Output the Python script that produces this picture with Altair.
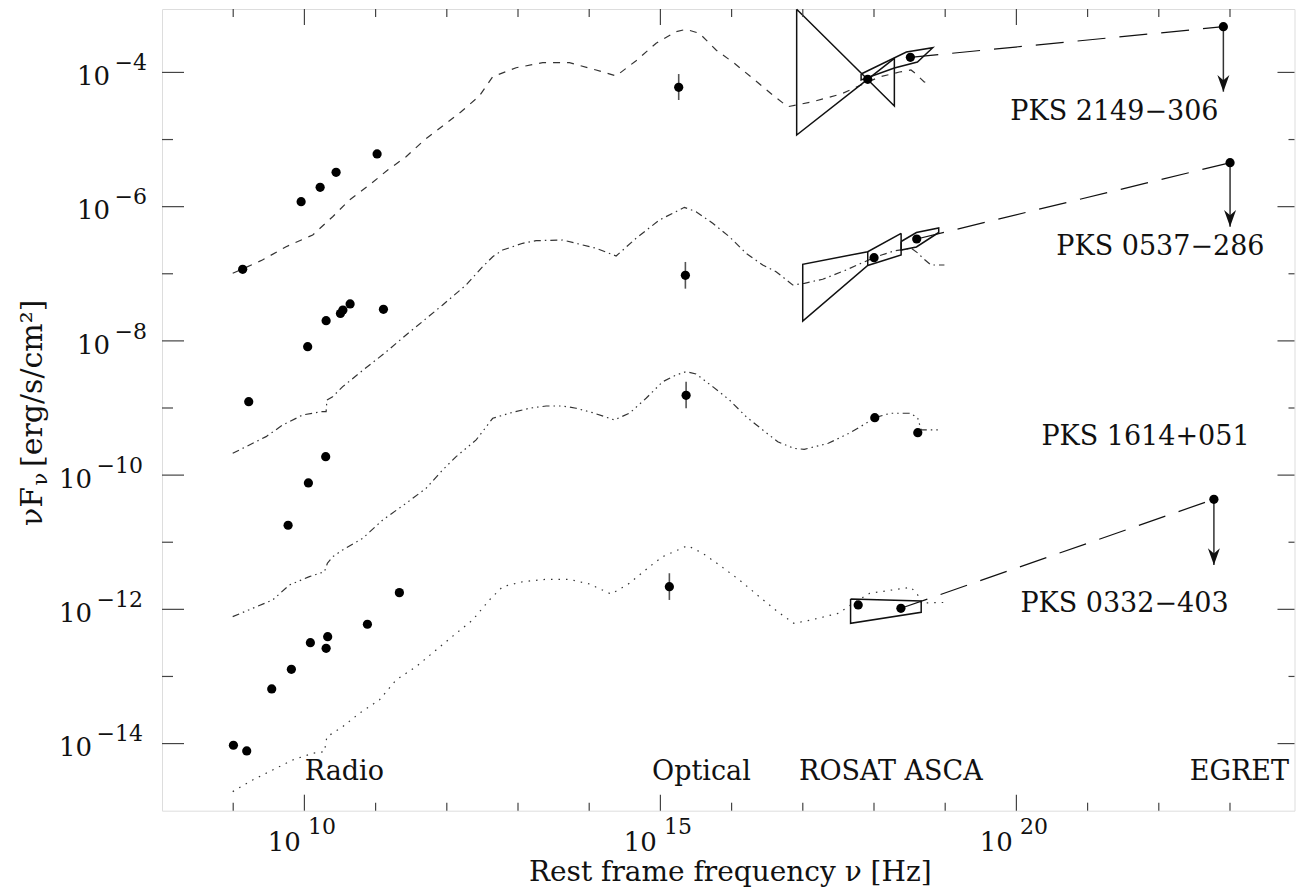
import altair as alt
import pandas as pd

# ------------------------------------------------------------------
# Values (log10 of frequency [Hz] and of nuF_nu)
# ------------------------------------------------------------------
SOURCE_LABELS = ["PKS 2149−306", "PKS 0537−286", "PKS 1614+051", "PKS 0332−403"]
SOURCE_LABEL_LOGNU = [21.377, 22.023, 21.813, 21.518]
SOURCE_LABEL_LOGF = [-4.709, -6.720, -9.551, -12.039]

BAND_LABELS = ["Radio", "Optical", "ROSAT ASCA", "EGRET"]
BAND_LABEL_LOGNU = [10.562, 15.576, 18.237, 23.132]
BAND_LABEL_LOGF = [-14.542, -14.542, -14.542, -14.542]

# radio photometry
RADIO_LOGNU = [9.133, 9.954, 10.221, 10.445, 11.021,
               9.218, 10.046, 10.305, 10.506, 10.541, 10.642, 11.110,
               9.771, 10.056, 10.299,
               9.003, 9.190, 9.541, 9.817, 10.084, 10.327, 10.305, 10.885, 11.334]
RADIO_LOGF = [-6.933, -5.926, -5.712, -5.488, -5.215,
              -8.906, -8.086, -7.699, -7.592, -7.540, -7.450, -7.529,
              -10.747, -10.117, -9.725,
              -14.025, -14.110, -13.186, -12.893, -12.497, -12.407, -12.580, -12.222, -11.751]

# optical points with error bars
OPT_LOGNU = [15.257, 15.351, 15.361, 15.126]
OPT_LOGF = [-4.222, -7.023, -8.811, -11.662]
OPT_LO = [-4.411, -7.222, -9.004, -11.860]
OPT_HI = [-4.024, -6.824, -8.608, -11.462]

# X-ray points (ROSAT, ASCA)
XR_LOGNU = [17.912, 18.511, 18.001, 18.600, 18.011, 18.615, 17.778, 18.378]
XR_LOGF = [-4.103, -3.775, -6.760, -6.482, -9.144, -9.368, -11.935, -11.984]

# EGRET upper limits (dot and arrow tip)
EG_LOGNU = [22.907, 23.001, 22.774]
EG_LOGF = [-3.319, -5.345, -10.360]
EG_TIP = [-4.287, -6.299, -11.339]

# long-dashed links from the hard X-ray point to EGRET
LINK_LOGNU1 = [18.511, 18.600, 18.378]
LINK_LOGF1 = [-3.775, -6.482, -11.984]

# model SEDs
M1_LOGNU = [8.993, 9.410, 9.743, 10.117, 10.397, 10.632, 10.913, 11.170, 11.428, 11.685,
            11.942, 12.201, 12.458, 12.645, 12.973, 13.347, 13.722, 14.097, 14.378, 14.659,
            14.940, 15.221, 15.361, 15.548, 15.782, 16.039, 16.296, 16.577, 16.788, 17.139,
            17.538, 17.819, 18.076, 18.357, 18.519, 18.579, 18.705, 18.818]
M1_LOGF = [-6.993, -6.795, -6.597, -6.422, -6.150, -5.901, -5.677, -5.454, -5.256, -5.007,
           -4.798, -4.585, -4.351, -4.064, -3.930, -3.855, -3.855, -3.964, -4.053, -3.825,
           -3.566, -3.393, -3.358, -3.417, -3.666, -3.864, -4.088, -4.336, -4.511, -4.436,
           -4.322, -4.187, -4.068, -3.994, -3.964, -4.013, -4.143, -4.153]

M2_LOGNU = [8.993, 9.462, 9.695, 9.976, 10.235, 10.305, 10.316, 10.397, 10.538, 10.796,
            11.124, 11.428, 11.685, 11.942, 12.271, 12.504, 12.645, 12.785, 13.066, 13.254,
            13.628, 13.909, 14.097, 14.378, 14.659, 14.986, 15.173, 15.337, 15.501, 15.735,
            15.969, 16.204, 16.437, 16.625, 16.858, 17.022, 17.279, 17.608, 17.819, 18.029,
            18.286, 18.525, 18.614, 18.684, 18.802, 18.989]
M2_LOGF = [-9.675, -9.427, -9.253, -9.104, -9.055, -9.055, -8.880, -8.831, -8.682, -8.459,
           -8.185, -7.912, -7.689, -7.465, -7.167, -6.894, -6.746, -6.646, -6.546, -6.507,
           -6.497, -6.571, -6.620, -6.735, -6.471, -6.199, -6.099, -6.010, -6.075, -6.248,
           -6.448, -6.695, -6.869, -6.969, -7.167, -7.142, -7.082, -6.944, -6.844, -6.747,
           -6.658, -6.620, -6.690, -6.765, -6.869, -6.869]

M3_LOGNU = [8.993, 9.274, 9.555, 9.789, 10.070, 10.281, 10.323, 10.397, 10.538, 10.819,
            11.100, 11.428, 11.709, 11.942, 12.131, 12.412, 12.645, 12.879, 13.160, 13.395,
            13.628, 13.816, 14.049, 14.354, 14.565, 14.799, 15.032, 15.221, 15.361, 15.501,
            15.735, 15.969, 16.204, 16.437, 16.648, 16.874, 17.020, 17.358, 17.648, 17.889,
            18.011, 18.229, 18.517, 18.615, 18.663, 18.904]
M3_LOGF = [-12.109, -11.984, -11.860, -11.637, -11.513, -11.439, -11.313, -11.215, -11.115, -10.941,
           -10.668, -10.420, -10.196, -9.923, -9.725, -9.476, -9.153, -9.078, -9.004, -8.970,
           -8.970, -9.004, -9.070, -9.178, -9.078, -8.855, -8.608, -8.508, -8.459, -8.493,
           -8.682, -8.880, -9.129, -9.327, -9.503, -9.601, -9.616, -9.526, -9.377, -9.228,
           -9.144, -9.078, -9.078, -9.153, -9.327, -9.327]

M4_LOGNU = [8.993, 9.274, 9.555, 9.836, 10.117, 10.281, 10.316, 10.397, 10.538, 10.772,
            11.053, 11.288, 11.569, 11.850, 12.131, 12.364, 12.598, 12.785, 13.066, 13.395,
            13.722, 14.003, 14.308, 14.565, 14.846, 15.032, 15.383, 15.594, 15.829, 16.110,
            16.390, 16.648, 16.874, 17.117, 17.503, 17.671, 17.938, 18.421, 18.518, 18.615,
            18.663, 19.001]
M4_LOGF = [-14.716, -14.542, -14.393, -14.244, -14.144, -14.121, -13.897, -13.846, -13.748, -13.549,
           -13.350, -13.052, -12.854, -12.605, -12.357, -12.158, -11.860, -11.662, -11.588, -11.552,
           -11.552, -11.623, -11.772, -11.612, -11.365, -11.215, -11.051, -11.165, -11.340, -11.563,
           -11.812, -12.036, -12.208, -12.158, -12.058, -11.935, -11.761, -11.686, -11.671, -11.786,
           -11.906, -11.897]

# X-ray spectral "bow-tie" outlines
SHAPE_ID = (["s1_rosat"] * 5 + ["s1_asca"] * 7 + ["s2_rosat"] * 7 + ["s2_box"] * 2
            + ["s2_asca"] * 7 + ["s4_xray"] * 5)
SHAPE_LOGNU = [16.914, 18.286, 18.286, 16.914, 16.914,
               17.819, 18.455, 18.825, 18.610, 18.286, 17.819, 17.819,
               18.381, 17.912, 16.999, 16.999, 17.912, 18.381, 18.381,
               17.912, 17.912,
               18.381, 18.596, 18.909, 18.909, 18.596, 18.381, 18.381,
               17.671, 17.671, 18.663, 18.663, 17.671]
SHAPE_LOGF = [-3.060, -4.500, -3.790, -4.932, -3.060,
              -4.024, -3.696, -3.632, -3.845, -3.934, -4.113, -4.024,
              -6.397, -6.671, -6.859, -7.704, -6.877, -6.720, -6.397,
              -6.671, -6.877,
              -6.519, -6.385, -6.318, -6.385, -6.601, -6.646, -6.519,
              -11.845, -12.208, -12.044, -11.875, -11.845]

# axis decorations
X_MAJOR = [10, 15, 20]
X_MINOR = [9, 11, 12, 13, 14, 16, 17, 18, 19, 21, 22, 23]
Y_MAJOR = [-14, -12, -10, -8, -6, -4]
Y_MINOR = [-13, -11, -9, -7, -5]
X_LABEL_EXP = ["10", "15", "20"]
Y_LABEL_EXP = ["−14", "−12", "−10", "−8", "−6", "−4"]

# ------------------------------------------------------------------
W, H = 1132.5, 801.7
X_DOMAIN = [1e8, 10 ** (8 + W / 71.2)]
Y_DOMAIN = [1e-15, 10 ** -3.055]
FONT = "DejaVu Serif"
INK = "#111"


def lin(v):
    return [10.0 ** a for a in v]


XS = alt.Scale(type="log", domain=X_DOMAIN, nice=False, zero=False)
YS = alt.Scale(type="log", domain=Y_DOMAIN, nice=False, zero=False)


def X(f="nu"):
    return alt.X(f"{f}:Q", scale=XS, axis=None)


def Y(f="f"):
    return alt.Y(f"{f}:Q", scale=YS, axis=None)


layers = []

# model curves
for lx, ly, dash in [(M1_LOGNU, M1_LOGF, [7, 7]),
                     (M2_LOGNU, M2_LOGF, [7, 4, 1.5, 4]),
                     (M3_LOGNU, M3_LOGF, [7, 4, 1.5, 4, 1.5, 4, 1.5, 4]),
                     (M4_LOGNU, M4_LOGF, [1.5, 6])]:
    d = pd.DataFrame({"nu": lin(lx), "f": lin(ly), "i": list(range(len(lx)))})
    layers.append(alt.Chart(d).mark_line(color="#333", strokeWidth=1.2, strokeDash=dash)
                  .encode(x=X(), y=Y(), order="i:Q"))

# bow-ties
shp = pd.DataFrame({"id": SHAPE_ID, "nu": lin(SHAPE_LOGNU), "f": lin(SHAPE_LOGF),
                    "i": list(range(len(SHAPE_ID)))})
layers.append(alt.Chart(shp).mark_line(color=INK, strokeWidth=1.5)
              .encode(x=X(), y=Y(), detail="id:N", order="i:Q"))

# long-dashed links
lk = pd.DataFrame({"nu": lin(LINK_LOGNU1), "f": lin(LINK_LOGF1),
                   "nu2": lin(EG_LOGNU), "f2": lin(EG_LOGF)})
layers.append(alt.Chart(lk).mark_rule(color=INK, strokeWidth=1.2, strokeDash=[28, 14])
              .encode(x=X(), y=Y(), x2="nu2:Q", y2="f2:Q"))

# EGRET arrows
eg = pd.DataFrame({"nu": lin(EG_LOGNU), "f": lin(EG_LOGF), "tip": lin(EG_TIP)})
layers.append(alt.Chart(eg).mark_rule(color="#333", strokeWidth=1.5)
              .encode(x=X(), y=Y(), y2="tip:Q"))
layers.append(alt.Chart(eg).mark_point(shape="M0,0L-1,-2.8L0,-1.9L1,-2.8Z", size=144,
                                       filled=True, color=INK, opacity=1)
              .encode(x=X(), y=Y("tip")))

# optical error bars
ob = pd.DataFrame({"nu": lin(OPT_LOGNU), "lo": lin(OPT_LO), "hi": lin(OPT_HI)})
layers.append(alt.Chart(ob).mark_rule(color="#555", strokeWidth=1.6)
              .encode(x=X(), y=Y("lo"), y2="hi:Q"))

# all points
pts = pd.DataFrame({"nu": lin(RADIO_LOGNU + OPT_LOGNU + XR_LOGNU + EG_LOGNU),
                    "f": lin(RADIO_LOGF + OPT_LOGF + XR_LOGF + EG_LOGF)})
layers.append(alt.Chart(pts).mark_circle(size=85, color="#000", opacity=1)
              .encode(x=X(), y=Y()))

# ticks
TICK = "#444"
def xticks(vals, top, length):
    d = pd.DataFrame({"nu": lin(vals)})
    y0, y1 = (0, length) if top else (H, H - length)
    return alt.Chart(d).mark_rule(color=TICK, strokeWidth=1.2).encode(
        x=X(), y=alt.value(y0), y2=alt.value(y1))

def yticks(vals, right, length):
    d = pd.DataFrame({"f": lin(vals)})
    x0, x1 = (W, W - length) if right else (0, length)
    return alt.Chart(d).mark_rule(color=TICK, strokeWidth=1.2).encode(
        y=Y(), x=alt.value(x0), x2=alt.value(x1))

layers += [xticks(X_MAJOR, False, 16), xticks(X_MINOR, False, 8),
           xticks(X_MAJOR, True, 16), xticks(X_MINOR, True, 8),
           yticks(Y_MAJOR, False, 22), yticks(Y_MINOR, False, 11),
           yticks(Y_MAJOR, True, 17), yticks(Y_MINOR, True, 6)]

# tick labels (10 with raised exponent)
xl = pd.DataFrame({"nu": lin(X_MAJOR), "t": X_LABEL_EXP})
layers.append(alt.Chart(xl).mark_text(text="10", font=FONT, fontSize=26, align="right",
                                      baseline="alphabetic", dx=-3.5, color=INK)
              .encode(x=X(), y=alt.value(841.7)))
layers.append(alt.Chart(xl).mark_text(font=FONT, fontSize=22, align="left",
                                      baseline="alphabetic", dx=3.5, color=INK)
              .encode(x=X(), y=alt.value(825.5), text="t:N"))

yl = pd.DataFrame({"f": lin(Y_MAJOR), "t": Y_LABEL_EXP})
for n, xb in [(2, -52.0), (3, -70.0)]:
    base = alt.Chart(yl).transform_filter(f"length(datum.t) == {n}")
    layers.append(base.mark_text(text="10", font=FONT, fontSize=26, align="right",
                                 baseline="alphabetic", dy=12.7, color=INK)
                  .encode(y=Y(), x=alt.value(xb)))
    layers.append(base.mark_text(font=FONT, fontSize=22, align="left",
                                 baseline="alphabetic", dy=-2.3, color=INK)
                  .encode(y=Y(), x=alt.value(xb + 4.5), text="t:N"))

# band and source labels
bl = pd.DataFrame({"nu": lin(BAND_LABEL_LOGNU), "f": lin(BAND_LABEL_LOGF), "t": BAND_LABELS})
layers.append(alt.Chart(bl).mark_text(font=FONT, fontSize=27, align="center",
                                      baseline="alphabetic", color=INK)
              .encode(x=X(), y=Y(), text="t:N"))
sl = pd.DataFrame({"nu": lin(SOURCE_LABEL_LOGNU), "f": lin(SOURCE_LABEL_LOGF), "t": SOURCE_LABELS})
layers.append(alt.Chart(sl).mark_text(font=FONT, fontSize=27, align="center",
                                      baseline="alphabetic", color=INK)
              .encode(x=X(), y=Y(), text="t:N"))

# axis titles
one = pd.DataFrame({"a": [0]})
layers.append(alt.Chart(one).mark_text(text="Rest frame frequency ν [Hz]", font=FONT,
                                       fontSize=28, align="center", baseline="alphabetic",
                                       color=INK)
              .encode(x=alt.value(W / 2 + 2), y=alt.value(872.5)))
for txt, size, xp, yp in [("νF", 30, -120, 517),
                          ("ν", 21, -115, 476.4),
                          ("[erg/s/cm²]", 30, -120, 458)]:
    layers.append(alt.Chart(one).mark_text(text=txt, font=FONT, fontSize=size, angle=270,
                                           align="left", baseline="alphabetic", color=INK)
                  .encode(x=alt.value(xp), y=alt.value(yp)))

chart = (alt.layer(*layers)
         .properties(width=W, height=H,
                     padding={"left": 154, "top": 1, "right": 1, "bottom": 77},
                     autosize=alt.AutoSizeParams(type="none"))
         .configure_view(stroke="#222", strokeWidth=1.3)
         .configure(background="white"))

chart.save("out.html", embed_options={"renderer": "svg", "actions": False})
